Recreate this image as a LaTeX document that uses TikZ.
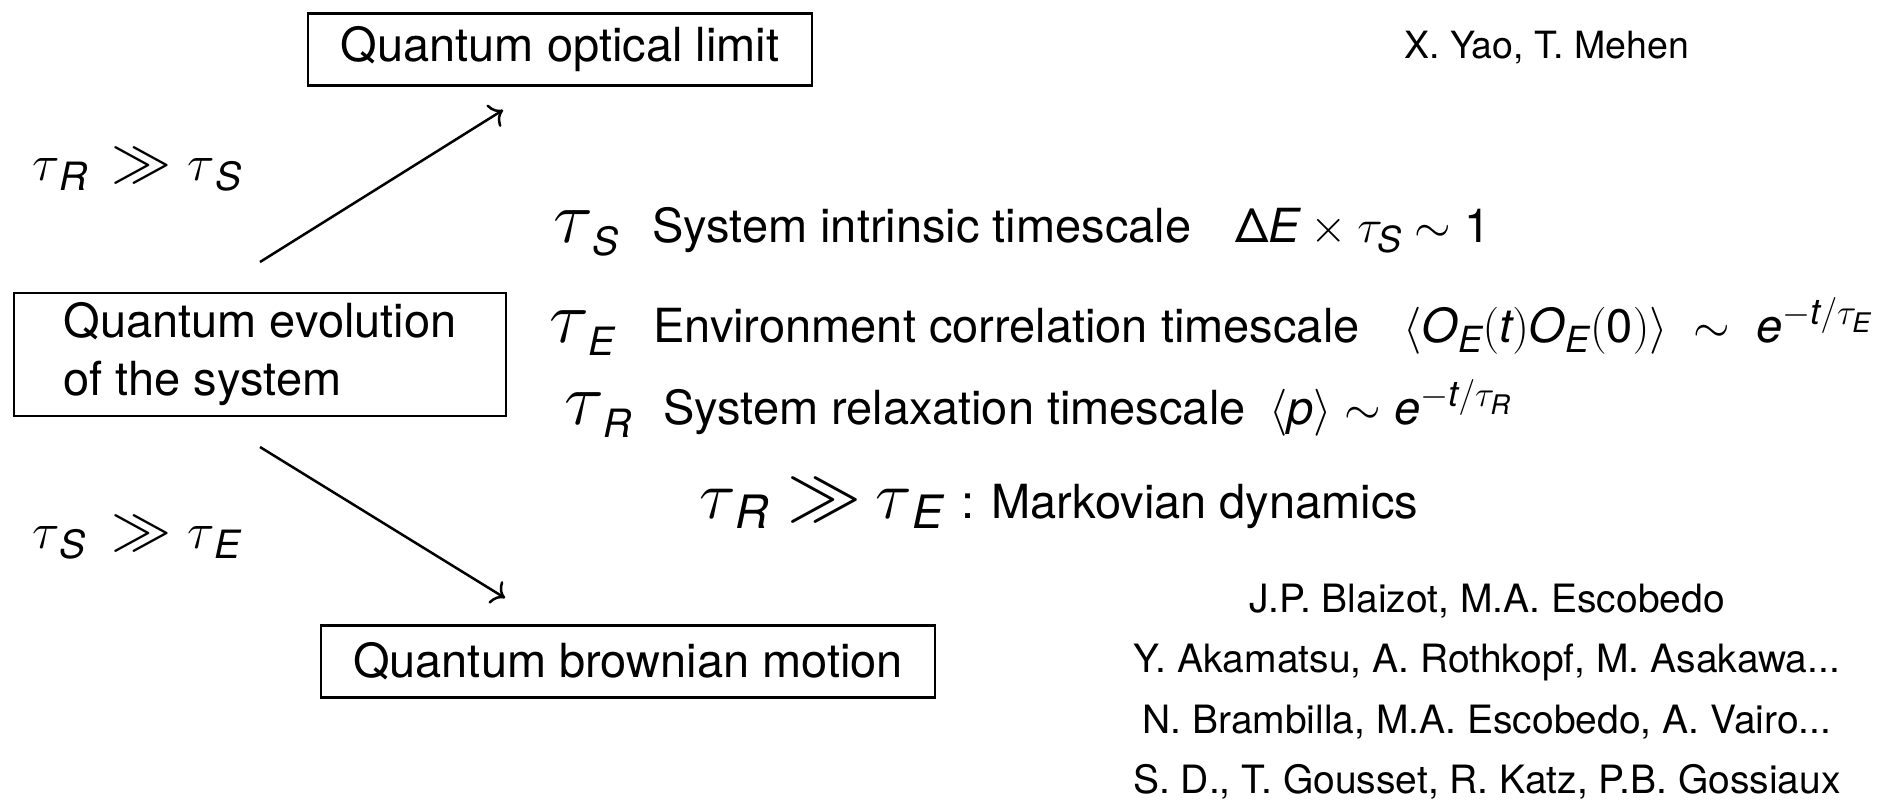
\RequirePackage{fix-cm}
\documentclass[tikz,border=0pt]{standalone}
\usepackage{amsmath}
\usepackage{fontspec}
\setmainfont{TeX Gyre Heros}
\usetikzlibrary{arrows.meta}
\DeclareMathSizes{47}{47}{36}{27}
\newcommand\mv[1]{\textit{#1}}
% tau with a lowered sans-italic subscript: #1 tau size, #2 sub size, #3 drop, #4 letter
\newcommand\tausub[4]{{\fontsize{#1}{#1}\selectfont$\tau$}{\fontsize{#2}{#2}\selectfont\raisebox{-#3pt}{\itshape #4}}}
\newcommand\ggsym[1]{{\fontsize{#1}{#1}\selectfont$\gg$}}
\tikzset{
  box/.style={draw, line width=2.8pt, inner sep=0pt, font=\fontsize{47}{58}\selectfont},
  txt/.style={inner sep=0pt, anchor=base west, font=\fontsize{47}{58}\selectfont},
  auth/.style={inner sep=0pt, anchor=base, font=\fontsize{39}{45}\selectfont},
  arr/.style={line width=2.5pt, -{To[length=12pt,width=26pt]}},
}
\begin{document}
\begin{tikzpicture}[x=1pt,y=-1pt]
\useasboundingbox (0,0) rectangle (1892,801);
% boxes
\node[box, minimum width=504pt, minimum height=72pt] (A) at (560,49.5) {Quantum optical limit};
\node[box, minimum width=492pt, minimum height=123pt, align=left] (B) at (260,354.5) {Quantum evolution\\of the system};
\node[box, minimum width=614pt, minimum height=72pt] (C) at (628,661.5) {Quantum brownian motion};
% arrows
\coordinate (a1s) at (260,262);
\coordinate (a1e) at (503,110);
\coordinate (a2s) at (260,447);
\coordinate (a2e) at (505,598);
\draw[arr] (a1s) -- (a1e);
\draw[arr] (a2s) -- (a2e);
% left labels
\node[txt] (l1) at (32,180) {\tausub{51}{39}{10}{R}\hspace{24pt}\ggsym{60}\hspace{16pt}\tausub{51}{39}{10}{S}};
\node[txt] (l2) at (32,548) {\tausub{51}{39}{10}{S}\hspace{26pt}\ggsym{60}\hspace{16pt}\tausub{51}{39}{10}{E}};
% list
\node[txt] (s1) at (553,242) {\tausub{74}{39}{13}{S}};
\node[txt] (d1) at (652,242) {System intrinsic timescale};
\node[txt] (m1) at (1235,242) {$\text{Δ}\mv{E}\times\tau_{\mv{S}}\sim\text{1}$};
\node[txt] (s2) at (549,342) {\tausub{74}{39}{13}{E}};
\node[txt] (d2) at (653,342) {Environment correlation timescale};
\node[txt] (m2) at (1403,342) {$\langle\mv{O}_{\mv{E}}(\mv{t})\mv{O}_{\mv{E}}(\text{0})\rangle\;\sim\;\mv{e}^{-\mv{t}/\tau_{\mv{E}}}$};
\node[txt] (s3) at (564,424) {\tausub{74}{39}{13}{R}};
\node[txt] (d3) at (663,424) {System relaxation timescale};
\node[txt] (m3) at (1269,424) {$\langle\mv{p}\rangle\sim\mv{e}^{-\mv{t}/\tau_{\mv{R}}}$};
\node[txt] (mk) at (699,518) {\tausub{68}{46}{10}{R}\hspace{19pt}\ggsym{74}\hspace{14pt}\tausub{68}{46}{10}{E}\hspace{18pt}: Markovian dynamics};
% references
\node[txt, font=\fontsize{37.5}{45}\selectfont] (yao) at (1404,58) {X. Yao, T. Mehen};
\node[auth] (r1) at (1487,612) {J.P. Blaizot, M.A. Escobedo};
\node[auth] (r2) at (1487,672) {Y. Akamatsu, A. Rothkopf, M. Asakawa...};
\node[auth] (r3) at (1487,733) {N. Brambilla, M.A. Escobedo, A. Vairo...};
\node[auth] (r4) at (1487,793) {S. D., T. Gousset, R. Katz, P.B. Gossiaux};
\end{tikzpicture}
\end{document}
